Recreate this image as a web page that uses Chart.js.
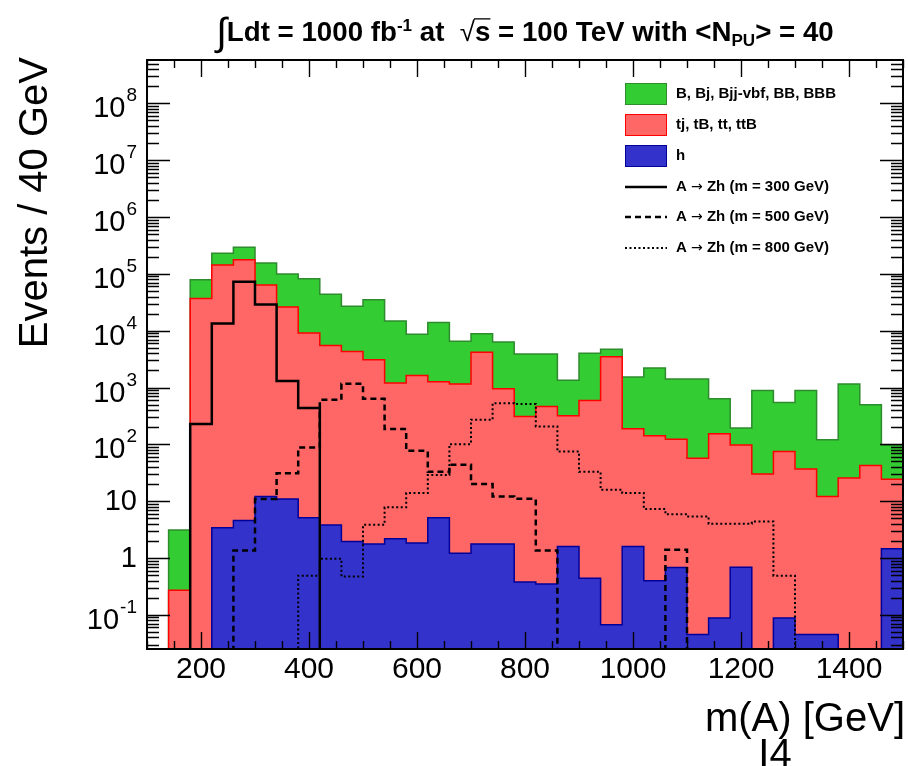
<!DOCTYPE html>
<html lang="en">
<head>
<meta charset="UTF-8">
<title>m(A) distribution</title>
<style>
  body { margin: 0; background: #ffffff; }
  #wrap { width: 908px; height: 766px; }
</style>
</head>
<body>
<div id="wrap"><canvas id="massChart" width="908" height="766"></canvas></div>
<script src="https://cdn.jsdelivr.net/npm/chart.js"></script>
<script>
// m(A) bin edges in GeV, 40 GeV per bin
const binEdges = [100, 140, 180, 220, 260, 300, 340, 380, 420, 460, 500, 540, 580, 620,
  660, 700, 740, 780, 820, 860, 900, 940, 980, 1020, 1060, 1100, 1140, 1180, 1220,
  1260, 1300, 1340, 1380, 1420, 1460, 1500];

// events per bin, one entry per bin (35 bins)
const bkgB = [0, 2.83, 42000, 86000, 118000, 91000, 74000, 72900, 38500, 22700, 31900,
  13700, 7070, 12640, 5350, 4600, 5350, 3590, 3436, 1032, 3408, 1200, 1342, 2058, 1286,
  1353, 480, 96, 859, 471, 852, 108, 1134, 454, 73.5];
const bkgTop = [0, 0.27, 37000, 144000, 177000, 64000, 26000, 9095, 5496, 4298, 3098,
  1198, 1628, 1255, 1149, 4198, 948, 310, 464, 316, 592, 3500, 186, 142, 123, 57,
  154, 97, 30, 75, 37, 12, 25.5, 42.6, 23];
const bkgHiggs = [0, 0, 0, 3.4, 4.6, 12.1, 10.9, 5.1, 3.8, 1.96, 1.76, 2.18, 1.84, 5.1,
  1.22, 1.76, 1.76, 0.38, 0.35, 1.6, 0.44, 0.067, 1.6, 0.40, 0.68, 0.045, 0.088, 0.69,
  0, 0.088, 0.045, 0.045, 0, 0, 1.46];
const sig300 = [0, 0, 228, 13400, 73000, 29000, 1300, 435, 0, 0, 0, 0, 0, 0, 0, 0, 0, 0,
  0, 0, 0, 0, 0, 0, 0, 0, 0, 0, 0, 0, 0, 0, 0, 0, 0];
const sig500 = [0, 0, 0, 0, 1.36, 10.9, 31, 88, 609, 1165, 634, 186, 77, 33, 43.8, 20,
  12.1, 11, 1.36, 0, 0, 0, 0, 0, 1.4, 0, 0, 0, 0, 0, 0, 0, 0, 0, 0];
const sig800 = [0, 0, 0, 0, 0, 0, 0, 0.49, 0.97, 0.475, 3.85, 7.8, 13.9, 29, 101, 271,
  532, 512, 207, 75, 33, 15.9, 13.9, 7.3, 5.9, 5.4, 4.0, 4.0, 4.4, 0.49, 0, 0, 0, 0, 0];

const xTickLabels = [200, 400, 600, 800, 1000, 1200, 1400];
const yTickExponents = [-1, 0, 1, 2, 3, 4, 5, 6, 7, 8];

// stacked tops
const stackH = bkgHiggs.slice();
const stackTop = bkgTop.map((v, i) => v + stackH[i]);
const stackB = bkgB.map((v, i) => v + stackTop[i]);

// one point per bin edge, the bin content held until the next edge
function stepPoints(vals) {
  return binEdges.map((x, i) => {
    const v = vals[Math.min(i, vals.length - 1)];
    return { x: x, y: v > 0 ? v : 1e-4 };
  });
}

const FONT = "'Liberation Sans', Arial, Helvetica, sans-serif";

const colGreen = '#33cc33', lineGreen = '#2e8b2e';
const colRed = '#ff6666', lineRed = '#ff0000';
const colBlue = '#3333cc', lineBlue = '#000099';

function drawPow(ctx, e, xRight, y) {
  ctx.fillStyle = '#000';
  ctx.textAlign = 'right';
  ctx.textBaseline = 'middle';
  ctx.font = '29px ' + FONT;
  if (e === 0 || e === 1) {
    ctx.fillText(e === 0 ? '1' : '10', xRight, y + 1);
    return;
  }
  ctx.font = '19px ' + FONT;
  const sup = String(e);
  const sw = ctx.measureText(sup).width;
  ctx.textBaseline = 'alphabetic';
  ctx.fillText(sup, xRight, y - 2);
  ctx.font = '29px ' + FONT;
  ctx.textBaseline = 'middle';
  ctx.fillText('10', xRight - sw - 1, y + 6);
}

function drawTitle(ctx) {
  const runs = [
    { t: '\u222B', s: 1.4, dy: 4, w: 'normal' },
    { t: 'Ldt = 1000 fb', s: 1, dy: 0 },
    { t: '-1', s: 0.62, dy: -10 },
    { t: ' at  ', s: 1, dy: 0 },
    { t: '\u221A', s: 1, dy: 0, w: 'normal' },
    { t: 's', s: 1, dy: 0, bar: true },
    { t: ' = 100 TeV with <N', s: 1, dy: 0 },
    { t: 'PU', s: 0.62, dy: 5 },
    { t: '> = 40', s: 1, dy: 0 }
  ];
  const fontFor = (r, base) => (r.w || 'bold') + ' ' + (base * r.s).toFixed(1) + 'px ' + FONT;
  const measure = base => runs.reduce((sum, r) => {
    ctx.font = fontFor(r, base);
    r.width = ctx.measureText(r.t).width;
    return sum + r.width;
  }, 0);
  // fit the title between x = 216 and x = 833
  let base = 23;
  base = base * 617 / measure(base);
  const total = measure(base);
  let x = 525 - total / 2;
  const yb = 41;
  ctx.fillStyle = '#000';
  ctx.textAlign = 'left';
  ctx.textBaseline = 'alphabetic';
  runs.forEach(r => {
    ctx.font = fontFor(r, base);
    ctx.fillText(r.t, x, yb + r.dy);
    if (r.bar) {
      ctx.beginPath();
      ctx.lineWidth = 1.3;
      ctx.strokeStyle = '#000';
      ctx.moveTo(x - 1, yb - base * 0.8);
      ctx.lineTo(x + r.width, yb - base * 0.8);
      ctx.stroke();
    }
    x += r.width;
  });
}

function drawLegendLabel(ctx, label, x, y) {
  const parts = label.split('\u2192');
  ctx.fillStyle = '#000';
  ctx.textAlign = 'left';
  ctx.textBaseline = 'middle';
  parts.forEach((p, i) => {
    if (i > 0) {
      ctx.font = '14px "DejaVu Sans", sans-serif';
      ctx.fillText('\u2192', x, y);
      x += ctx.measureText('\u2192').width;
    }
    ctx.font = 'bold 15px ' + FONT;
    ctx.fillText(p, x, y);
    x += ctx.measureText(p).width;
  });
}

const frameAndText = {
  id: 'frameAndText',
  afterDraw(chart) {
    const ctx = chart.ctx;
    const a = chart.chartArea;
    const xs = chart.scales.x, ys = chart.scales.y;
    ctx.save();

    // ticks, drawn inside the frame on all four sides
    ctx.strokeStyle = '#000';
    ctx.lineWidth = 1.4;
    ctx.beginPath();
    for (let d = -2; d <= 9; d++) {
      for (let k = 1; k <= 9; k++) {
        const v = k * Math.pow(10, d);
        if (v < ys.min || v > ys.max) continue;
        const y = Math.round(ys.getPixelForValue(v)) + 0.5;
        const len = k === 1 ? 23 : 12;
        ctx.moveTo(a.left, y); ctx.lineTo(a.left + len, y);
        ctx.moveTo(a.right, y); ctx.lineTo(a.right - len, y);
      }
    }
    for (let v = 100; v <= 1500; v += 50) {
      const x = Math.round(xs.getPixelForValue(v)) + 0.5;
      const len = v % 200 === 0 ? 17 : 8;
      ctx.moveTo(x, a.bottom); ctx.lineTo(x, a.bottom - len);
      ctx.moveTo(x, a.top); ctx.lineTo(x, a.top + len);
    }
    ctx.stroke();

    // frame
    ctx.lineWidth = 2;
    ctx.strokeRect(a.left, a.top, a.right - a.left, a.bottom - a.top);

    // x tick labels
    ctx.fillStyle = '#000';
    ctx.font = '30px ' + FONT;
    ctx.textAlign = 'center';
    ctx.textBaseline = 'top';
    xTickLabels.forEach(v => ctx.fillText(String(v), xs.getPixelForValue(v), 655));

    // y tick labels
    yTickExponents.forEach(e => drawPow(ctx, e, 137, ys.getPixelForValue(Math.pow(10, e))));

    // axis titles
    ctx.font = '40px ' + FONT;
    ctx.textAlign = 'right';
    ctx.textBaseline = 'alphabetic';
    ctx.fillText('m(A) [GeV]', 905, 731);
    ctx.textAlign = 'center';
    ctx.fillText('I4', 775, 767);
    ctx.save();
    ctx.translate(47, 57);
    ctx.rotate(-Math.PI / 2);
    ctx.textAlign = 'right';
    ctx.fillText('Events / 40 GeV', 0, 0);
    ctx.restore();

    drawTitle(ctx);

    // legend
    const ds = chart.data.datasets;
    const entries = [ds[5], ds[4], ds[3], ds[0], ds[1], ds[2]];
    const rowY = [94, 125, 156, 187, 217, 248];
    entries.forEach((d, i) => {
      const y = rowY[i];
      if (d.fill) {
        ctx.fillStyle = d.backgroundColor;
        ctx.fillRect(625, y - 11, 42, 22);
        ctx.strokeStyle = d.borderColor;
        ctx.lineWidth = 1;
        ctx.strokeRect(625.5, y - 10.5, 41, 21);
      } else {
        ctx.strokeStyle = d.borderColor;
        ctx.lineWidth = d.borderWidth;
        ctx.setLineDash(d.borderDash || []);
        ctx.beginPath();
        ctx.moveTo(625, y); ctx.lineTo(667, y);
        ctx.stroke();
        ctx.setLineDash([]);
      }
      drawLegendLabel(ctx, d.label, 676, y);
    });

    ctx.restore();
  }
};

const ctx = document.getElementById('massChart').getContext('2d');
new Chart(ctx, {
  type: 'line',
  data: {
    datasets: [
      { label: 'A \u2192 Zh (m = 300 GeV)', data: stepPoints(sig300), borderColor: '#000000',
        borderWidth: 2.5, fill: false, order: 0 },
      { label: 'A \u2192 Zh (m = 500 GeV)', data: stepPoints(sig500), borderColor: '#000000',
        borderWidth: 2.5, borderDash: [6, 4], fill: false, order: 1 },
      { label: 'A \u2192 Zh (m = 800 GeV)', data: stepPoints(sig800), borderColor: '#000000',
        borderWidth: 2, borderDash: [2, 2.5], fill: false, order: 2 },
      { label: 'h', data: stepPoints(stackH), borderColor: lineBlue, backgroundColor: colBlue,
        borderWidth: 1.5, fill: 'start', order: 3 },
      { label: 'tj, tB, tt, ttB', data: stepPoints(stackTop), borderColor: lineRed,
        backgroundColor: colRed, borderWidth: 1.5, fill: 'start', order: 4 },
      { label: 'B, Bj, Bjj-vbf, BB, BBB', data: stepPoints(stackB), borderColor: lineGreen,
        backgroundColor: colGreen, borderWidth: 1.5, fill: 'start', order: 5 }
    ]
  },
  options: {
    responsive: false,
    animation: false,
    layout: { padding: { left: 147, top: 60, right: 5, bottom: 117 } },
    elements: {
      line: { stepped: 'before', tension: 0, borderJoinStyle: 'miter' },
      point: { radius: 0 }
    },
    scales: {
      x: { type: 'linear', min: 100, max: 1500, display: false },
      y: { type: 'logarithmic', min: 0.0251, max: 5.8e8, display: false }
    },
    plugins: { legend: { display: false }, tooltip: { enabled: false } }
  },
  plugins: [frameAndText]
});
</script>
</body>
</html>
